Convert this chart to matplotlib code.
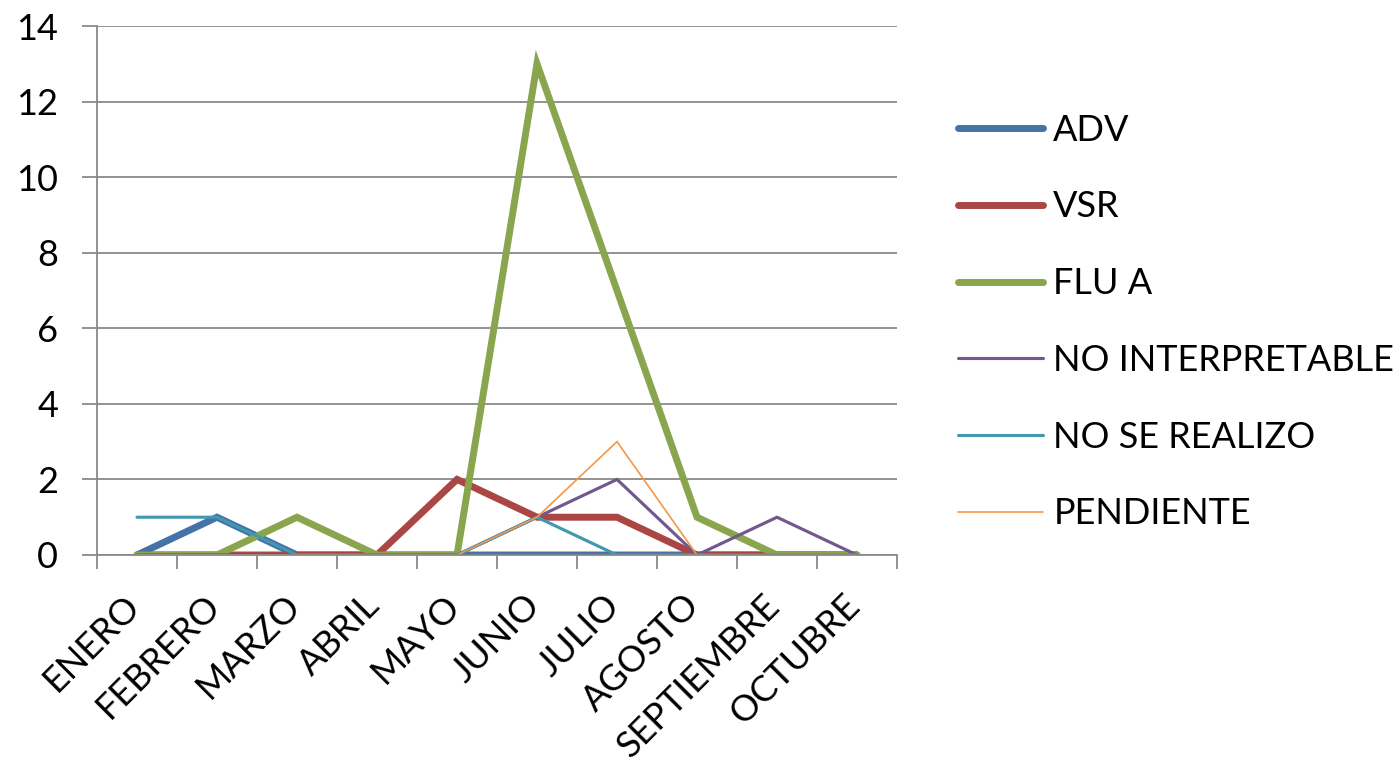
import matplotlib.pyplot as plt
import matplotlib.transforms as mtransforms
import numpy as np

# meses y series
meses = ["ENERO", "FEBRERO", "MARZO", "ABRIL", "MAYO", "JUNIO", "JULIO",
         "AGOSTO", "SEPTIEMBRE", "OCTUBRE"]
adv = [0, 1, 0, 0, 0, 0, 0, 0, 0, 0]
vsr = [0, 0, 0, 0, 2, 1, 1, 0, 0, 0]
flu_a = [0, 0, 1, 0, 0, 13, 7, 1, 0, 0]
no_interpretable = [0, 0, 0, 0, 0, 1, 2, 0, 1, 0]
no_se_realizo = [1, 1, 0, 0, 0, 1, 0, 0, 0, 0]
pendiente = [0, 0, 0, 0, 0, 1, 3, 0, 0, 0]

plt.rcParams['font.family'] = ['Lato', 'DejaVu Sans']
FS = 26

fig = plt.figure(figsize=(13.96, 7.62), dpi=100)
ax = fig.add_axes([97 / 1396, 1 - 555 / 762, 800 / 1396, 529 / 762])

x = np.arange(len(meses))
series = [
    ("ADV", adv, "#4572A7", 5.0),
    ("VSR", vsr, "#AA4643", 5.0),
    ("FLU A", flu_a, "#89A54E", 5.0),
    ("NO INTERPRETABLE", no_interpretable, "#71588F", 2.25),
    ("NO SE REALIZO", no_se_realizo, "#4198AF", 2.25),
    ("PENDIENTE", pendiente, "#F79646", 1.2),
]
for nombre, vals, color, lw in series:
    ax.plot(x, vals, color=color, lw=lw, label=nombre,
            solid_joinstyle='miter', solid_capstyle='round')

ax.set_xlim(-0.5, len(meses) - 0.5)
ax.set_ylim(0, 14)
ax.set_yticks(range(0, 15, 2))
ax.tick_params(axis='y', labelsize=FS, length=11, pad=17,
               color='#898989', width=1.3)
ax.grid(axis='y', color='#898989', lw=1.3)
ax.set_axisbelow(True)

# ticks del eje x entre categorias
ax.set_xticks(np.arange(-0.5, len(meses), 1.0))
ax.set_xticklabels([])
ax.tick_params(axis='x', length=10, color='#898989', width=1.3)
ax.set_xticks(x, minor=True)
ax.set_xticklabels(meses, minor=True, rotation=45, ha='right', va='top',
                   rotation_mode='anchor', fontsize=FS)
ax.tick_params(axis='x', which='minor', length=0, pad=24)
# correr un poco las etiquetas a la izquierda
shift = mtransforms.ScaledTranslation(-14 / 100, 0, fig.dpi_scale_trans)
for lab in ax.get_xticklabels(minor=True):
    lab.set_transform(lab.get_transform() + shift)

for s in ['top', 'right']:
    ax.spines[s].set_visible(False)
for s in ['left', 'bottom']:
    ax.spines[s].set_color('#898989')
    ax.spines[s].set_linewidth(1.3)

fig.legend(loc='center left', bbox_to_anchor=(958 / 1396, 1 - 322 / 762),
           frameon=False, fontsize=FS, handlelength=2.36, handletextpad=0.28,
           labelspacing=1.21, borderpad=0, borderaxespad=0)

fig.savefig("out.png", dpi=100)
